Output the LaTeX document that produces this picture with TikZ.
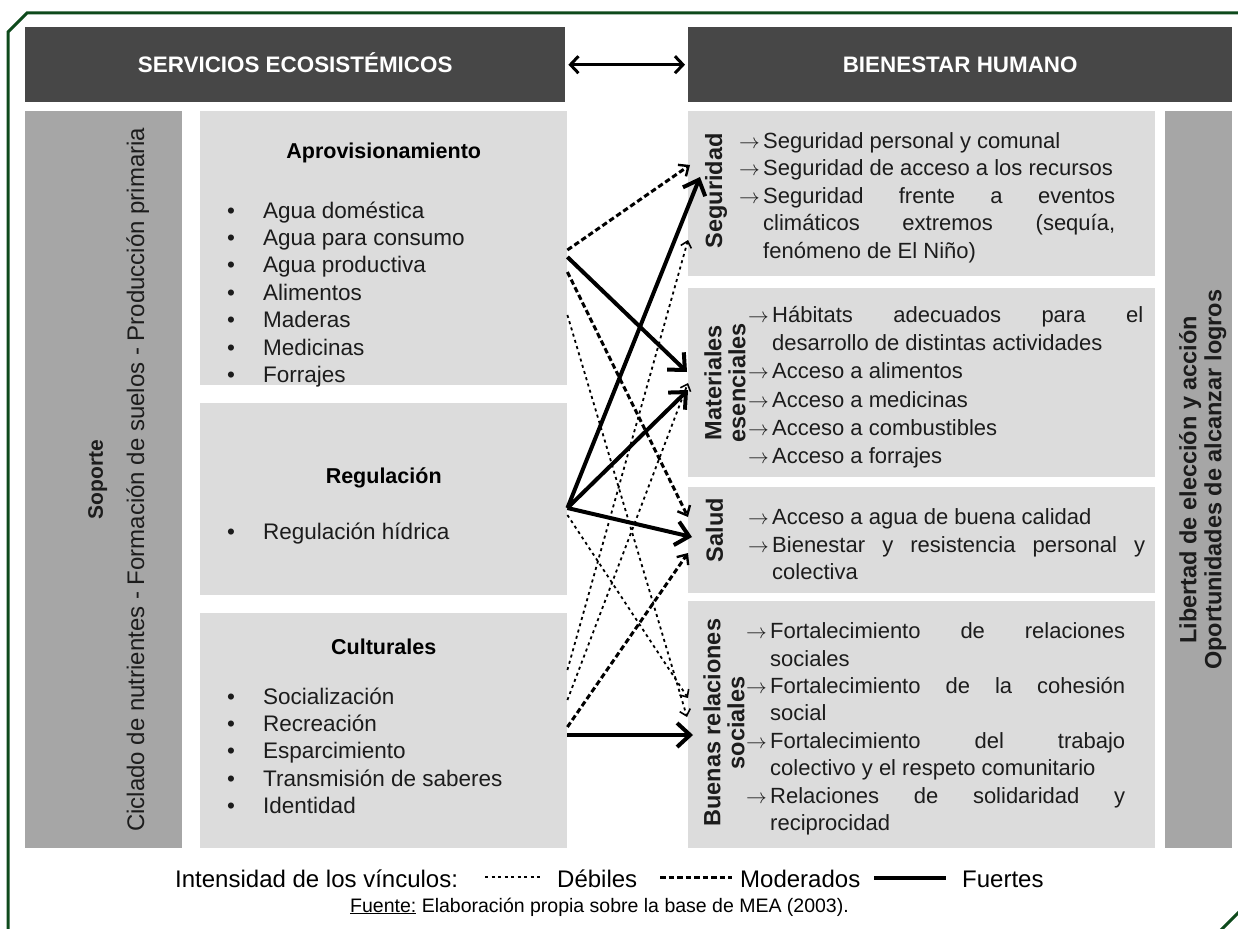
\documentclass[tikz,border=0pt]{standalone}
\usepackage{fontspec}
\setmainfont{Liberation Sans}
\usetikzlibrary{calc,positioning,arrows.meta}

\definecolor{hdrgray}{HTML}{474747}
\definecolor{boxgray}{HTML}{DCDCDC}
\definecolor{sidegray}{HTML}{A6A6A6}
\definecolor{framegreen}{HTML}{0E4A1C}
\definecolor{txtgray}{HTML}{1C1C1C}

\newcommand{\flecha}{\par\hangindent=24pt\hangafter=1\noindent\makebox[24pt][l]{$\rightarrow$}}
\hbadness=10000

\begin{document}
\begin{tikzpicture}[x=1pt,y=-1pt,
    hdr/.style={fill=hdrgray,text=white,anchor=north west,inner sep=0,minimum height=75pt,text height=16pt,text depth=0pt,font=\fontsize{22.4}{26}\selectfont\bfseries},
    lbox/.style={fill=boxgray,anchor=north west,inner sep=0},
    dbox/.style={fill=sidegray,anchor=north west,inner sep=0},
    ttl/.style={text=black,inner sep=0,font=\fontsize{21.5}{26}\selectfont\bfseries},
    entry/.style={text=txtgray,inner sep=0,anchor=base west,font=\fontsize{22.5}{26}\selectfont},
    vlbl/.style={rotate=90,inner sep=0,align=center,text=txtgray,font=\fontsize{23.5}{24}\selectfont\bfseries},
    txt/.style={anchor=north west,inner sep=0,align=justify,text=txtgray,font=\fontsize{22}{27.4}\selectfont},
    weak/.style={line width=1.8pt,dash pattern=on 3pt off 3.5pt,-{Straight Barb[length=6pt,width=11pt,line width=1.6pt]}},
    moder/.style={line width=3pt,dash pattern=on 5.5pt off 3pt,-{Straight Barb[length=8pt,width=14pt,line width=2.4pt]}},
    strong/.style={line width=4pt,-{Straight Barb[length=13pt,width=24pt,line width=4pt]}},
    legtxt/.style={inner sep=0,text=black,anchor=base west,font=\fontsize{24}{28}\selectfont}]

    \useasboundingbox[fill=white] (0,0) rectangle (1238,928);
    \draw[framegreen,line width=3pt,line join=miter] (8,940) -- (8,32) -- (27,13) -- (1241,13) -- (1241,910) -- (1210,941);

    % headers
    \node[hdr,minimum width=540pt] (seHead) at (25,27) {SERVICIOS ECOSISTÉMICOS};
    \node[hdr,minimum width=544pt] (bhHead) at (688,27) {BIENESTAR HUMANO};
    \draw[line width=3pt,{Straight Barb[length=8pt,width=17pt]}-{Straight Barb[length=8pt,width=17pt]},shorten <=3pt,shorten >=3pt] (seHead.east) -- (bhHead.west);

    % soporte
    \node[dbox,minimum width=157pt,minimum height=737pt] (soporte) at (25,111) {};
    \node[vlbl,font=\fontsize{21}{24}\selectfont\bfseries] (sopT) at ($(soporte.center)+(-6,0)$) {Soporte};
    \node[vlbl,font=\fontsize{24}{26}\selectfont] (sopS) at ($(soporte.center)+(34,0)$) {Ciclado de nutrientes - Formación de suelos - Producción primaria};

    % servicios
    \node[lbox,minimum width=367pt,minimum height=274pt] (aprov) at (200,111) {};
    \node[lbox,minimum width=367pt,minimum height=192pt] (regul) at (200,403) {};
    \node[lbox,minimum width=367pt,minimum height=235pt] (cultur) at (200,613) {};
    \node[ttl] (aprovT) at ($(aprov.north)+(0,42)$) {Aprovisionamiento};
    \node[ttl] (regulT) at ($(regul.north)+(0,75)$) {Regulación};
    \node[ttl] (culturT) at ($(cultur.north)+(0,34)$) {Culturales};
    \foreach \bx/\top/\lst in {aprov/107/{Agua doméstica,Agua para consumo,Agua productiva,Alimentos,Maderas,Medicinas,Forrajes},
                               regul/136/{Regulación hídrica},
                               cultur/91/{Socialización,Recreación,Esparcimiento,Transmisión de saberes,Identidad}}
    {
        \foreach \t [count=\i from 0] in \lst
        {
            \node[entry] at ($(\bx.north west)+(27,\top+27.4*\i)$) {\textbullet};
            \node[entry] at ($(\bx.north west)+(63,\top+27.4*\i)$) {\t};
        }
    }

    % bienestar
    \node[lbox,minimum width=467pt,minimum height=165pt] (segur) at (688,111) {};
    \node[lbox,minimum width=467pt,minimum height=189pt] (mater) at (688,288) {};
    \node[lbox,minimum width=467pt,minimum height=106pt] (salud) at (688,487) {};
    \node[lbox,minimum width=467pt,minimum height=247pt] (buenas) at (688,601) {};
    \node[dbox,minimum width=67pt,minimum height=737pt] (libert) at (1165,111) {};

    \node[vlbl] (segurL) at ($(segur.west)+(28,-3)$) {Seguridad};
    \node[vlbl] (materL) at ($(mater.west)+(37,0)$) {Materiales\\esenciales};
    \node[vlbl] (saludL) at ($(salud.west)+(26.5,-10)$) {Salud};
    \node[vlbl] (buenasL) at ($(buenas.west)+(36,-2)$) {Buenas relaciones\\sociales};
    \node[vlbl,font=\fontsize{23.5}{25}\selectfont\bfseries] (libertL) at ($(libert.center)+(4,0)$) {Libertad de elección y acción\\Oportunidades de alcanzar logros};

    \node[txt,text width=376pt] (segurX) at ($(segur.north west)+(51,10)$) {%
        \flecha Seguridad personal y comunal
        \flecha Seguridad de acceso a los recursos
        \flecha Seguridad frente a eventos\linebreak climáticos extremos (sequía,\linebreak fenómeno de El Niño)\par};
    \node[txt,text width=395pt,font=\fontsize{22}{28.2}\selectfont] (materX) at ($(mater.north west)+(60,6)$) {%
        \flecha Hábitats adecuados para el\linebreak desarrollo de distintas actividades
        \flecha Acceso a alimentos
        \flecha Acceso a medicinas
        \flecha Acceso a combustibles
        \flecha Acceso a forrajes\par};
    \node[txt,text width=397pt] (saludX) at ($(salud.north west)+(60,10)$) {%
        \flecha Acceso a agua de buena calidad
        \flecha Bienestar y resistencia personal y\linebreak colectiva\par};
    \node[txt,text width=379pt] (buenasX) at ($(buenas.north west)+(58,10)$) {%
        \flecha Fortalecimiento de relaciones\linebreak sociales
        \flecha Fortalecimiento de la cohesión\linebreak social
        \flecha Fortalecimiento del trabajo\linebreak colectivo y el respeto comunitario
        \flecha Relaciones de solidaridad y\linebreak reciprocidad\par};

    % vinculos
    \coordinate (a1) at ($(aprov.north east)+(0,139)$);
    \coordinate (a2) at ($(aprov.north east)+(0,146)$);
    \coordinate (a3) at ($(aprov.north east)+(0,161)$);
    \coordinate (a4) at ($(aprov.north east)+(0,204)$);
    \coordinate (r1) at ($(regul.north east)+(0,105)$);
    \coordinate (r2) at ($(regul.north east)+(0,112)$);
    \coordinate (c1) at ($(cultur.north east)+(0,57)$);
    \coordinate (c2) at ($(cultur.north east)+(0,87)$);
    \coordinate (c3) at ($(cultur.north east)+(0,114)$);
    \coordinate (c4) at ($(cultur.north east)+(0,122)$);
    \coordinate (s1) at ($(segur.north west)+(2,54)$);
    \coordinate (s2) at ($(segur.north west)+(12,66)$);
    \coordinate (s3) at ($(segur.north west)+(0,129)$);
    \coordinate (m1) at ($(mater.north west)+(-1,84)$);
    \coordinate (m2) at ($(mater.north west)+(0,102)$);
    \coordinate (m3) at ($(mater.north west)+(0,95)$);
    \coordinate (h1) at ($(salud.north west)+(0,30)$);
    \coordinate (h2) at ($(salud.north west)+(4,50)$);
    \coordinate (h3) at ($(salud.north west)+(0,66)$);
    \coordinate (b1) at ($(buenas.north west)+(0,97)$);
    \coordinate (b2) at ($(buenas.north west)+(-1,116)$);
    \coordinate (b3) at ($(buenas.north west)+(5,134)$);
    \foreach \f/\t/\s in {a4/b2/weak,r2/b1/weak,c1/s3/weak,c2/m3/weak,
                          a1/s1/moder,a3/h1/moder,c3/h3/moder,
                          a2/m1/strong,r1/s2/strong,r1/m2/strong,r1/h2/strong,c4/b3/strong}
        \draw[\s] (\f) -- (\t);

    % leyenda
    \node[legtxt] (legT) at (175,887) {Intensidad de los vínculos:};
    \node[legtxt] (legW) at (557,887) {Débiles};
    \node[legtxt] (legM) at (740,887) {Moderados};
    \node[legtxt] (legS) at (962,887) {Fuertes};
    \draw[line width=1.8pt,dash pattern=on 3pt off 3.5pt] ($(legW.west)+(-72,-1)$) -- ($(legW.west)+(-14,-1)$);
    \draw[line width=3pt,dash pattern=on 5.5pt off 3pt] ($(legM.west)+(-80,-1)$) -- ($(legM.west)+(-8,-1)$);
    \draw[line width=4pt] ($(legS.west)+(-88,-1)$) -- ($(legS.west)+(-16,-1)$);
    \node[legtxt,font=\fontsize{19.5}{22}\selectfont] (fuente) at (350,912) {\underline{Fuente:} Elaboración propia sobre la base de MEA (2003).};
\end{tikzpicture}
\end{document}
